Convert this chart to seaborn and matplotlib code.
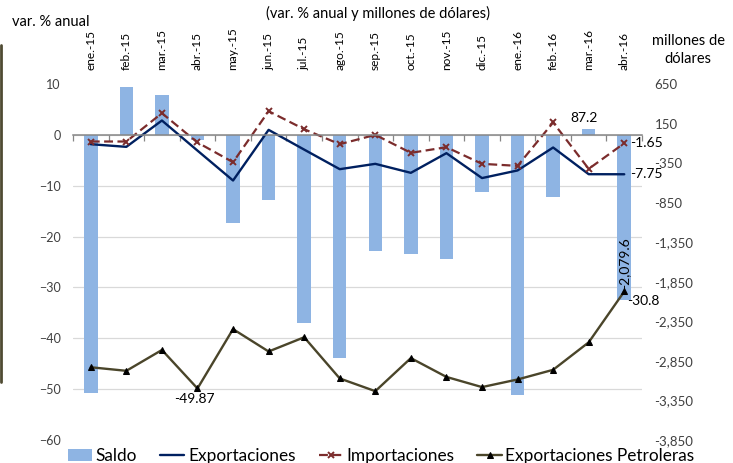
import matplotlib
matplotlib.use("Agg")
import matplotlib.pyplot as plt
from matplotlib.lines import Line2D
from matplotlib.ticker import FixedLocator
import seaborn as sns
import pandas as pd
import numpy as np

meses = ['ene.-15', 'feb.-15', 'mar.-15', 'abr.-15', 'may.-15', 'jun.-15', 'jul.-15', 'ago.-15',
         'sep.-15', 'oct.-15', 'nov.-15', 'dic.-15', 'ene.-16', 'feb.-16', 'mar.-16', 'abr.-16']

# saldo, millones de dolares (eje derecho)
saldo = [-3250, 614, 512, -56, -1109, -822, -2372, -2815,
         -1467, -1493, -1568, -709, -3285, -777, 87.2, -2079.6]

# var. % anual (eje izquierdo)
exportaciones = [-1.84, -2.36, 2.82, -3.1, -8.98, 0.98, -2.9, -6.75,
                 -5.7, -7.47, -3.6, -8.5, -7.0, -2.49, -7.74, -7.75]
importaciones = [-1.31, -1.31, 4.26, -1.5, -5.38, 4.65, 1.11, -1.84,
                 0.0, -3.54, -2.43, -5.7, -6.1, 2.43, -6.69, -1.65]
petroleras = [-45.7, -46.4, -42.3, -49.87, -38.2, -42.6, -39.8, -47.9,
              -50.4, -43.9, -47.6, -49.6, -48.1, -46.2, -40.8, -30.8]

left_ticks = list(range(-60, 11, 10))
right_ticks = list(range(-3850, 651, 500))

df = pd.DataFrame({'mes': meses, 'saldo': saldo, 'exp': exportaciones,
                   'imp': importaciones, 'pet': petroleras})

sns.set_theme(style='white')
plt.rcParams['font.family'] = ['Lato', 'DejaVu Sans']

TXT = '#404040'
fig = plt.figure(figsize=(7.33, 4.63), dpi=100)
ax = fig.add_axes([0.0996, 0.0497, 0.7763, 0.7689])
ax2 = ax.twinx()

# bars on the right (millones) axis
sns.barplot(data=df, x='mes', y='saldo', ax=ax2, color='#8EB4E3', saturation=1,
            width=0.38, label='Saldo', linewidth=0)
ax2.set_ylim(-3850, 650)

# lines on the left axis
sns.lineplot(data=df, x='mes', y='exp', ax=ax, color='#002060', lw=1.7,
             sort=False, label='Exportaciones')
sns.lineplot(data=df, x='mes', y='imp', ax=ax, color='#7B2C2C', lw=1.6,
             linestyle=(0, (4, 2)), marker='x', markersize=5, markeredgewidth=1.4,
             markeredgecolor='#7B2C2C', sort=False, label='Importaciones')
sns.lineplot(data=df, x='mes', y='pet', ax=ax, color='#4A452A', lw=1.7,
             marker='^', markersize=5, markerfacecolor='black', markeredgecolor='black',
             sort=False, label='Exportaciones Petroleras')
ax.set_ylim(-60, 10)
ax.set_xlim(-0.5, len(meses) - 0.5)

ax.set_zorder(ax2.get_zorder() + 1)
ax.patch.set_visible(False)

# gridlines (at left-axis ticks) drawn behind the bars
grid_pos = [-3850 + (v + 60) / 70 * 4500 for v in left_ticks]
ax2.yaxis.set_minor_locator(FixedLocator(grid_pos))
ax2.grid(which='minor', axis='y', color='#D9D9D9', lw=0.9)
ax2.grid(which='major', visible=False)
ax2.set_axisbelow(True)
ax2.set_yticks(right_ticks)
ax2.set_yticklabels([f'{v:,}' for v in right_ticks])
ax2.tick_params(axis='y', which='both', length=0, pad=9, labelsize=9.5, labelcolor=TXT)
ax2.set_ylabel('')
for s in ax2.spines.values():
    s.set_visible(False)

ax.set_yticks(left_ticks)
ax.tick_params(axis='y', length=0, pad=9, labelsize=9, labelcolor=TXT)
ax.set_xticks(range(len(meses)))
ax.set_xticklabels(meses)
ax.set_xticks(np.arange(-0.5, len(meses), 1), minor=True)
ax.tick_params(axis='x', which='major', top=False, bottom=False, labeltop=True,
               labelbottom=False, labelrotation=90, labelsize=8.6, labelcolor='black', pad=4)
ax.tick_params(axis='x', which='minor', bottom=True, top=False, length=4,
               width=0.9, color='#868686', direction='out')
ax.set_xlabel('')
ax.set_ylabel('')
for k in ['top', 'left', 'right']:
    ax.spines[k].set_visible(False)
ax.spines['bottom'].set_position(('data', 0))
ax.spines['bottom'].set_color('#868686')
ax.spines['bottom'].set_linewidth(1.1)

# data labels
lab = dict(fontsize=10, color='black', textcoords='offset points')
ax2.annotate(f'{saldo[14]:.1f}', (14, saldo[14]), xytext=(-3, 3), ha='center', va='bottom', **lab)
ax2.annotate(f'{saldo[15]:,.1f}', (15, saldo[15]), xytext=(0, 8), ha='center', va='bottom',
             rotation=90, **lab)
ax.annotate(f'{importaciones[15]:.2f}', (15, importaciones[15]), xytext=(4, 0), ha='left',
            va='center', **lab)
ax.annotate(f'{exportaciones[15]:.2f}', (15, exportaciones[15]), xytext=(4, 0), ha='left',
            va='center', **lab)
ax.annotate(f'{petroleras[15]:.1f}', (15, petroleras[15]), xytext=(2, -7), ha='left',
            va='center', **lab)
ax.annotate(f'{petroleras[3]:.2f}', (3, petroleras[3]), xytext=(-2, -3), ha='center',
            va='top', **lab)

# legend
h1, l1 = ax2.get_legend_handles_labels()
h2, l2 = ax.get_legend_handles_labels()
for a in (ax, ax2):
    if a.get_legend():
        a.get_legend().remove()
fig.legend(h1 + h2, l1 + l2, loc='lower center', bbox_to_anchor=(0.52, -0.036), ncol=4,
           frameon=False, fontsize=12.4, handlelength=1.4, handletextpad=0.2,
           columnspacing=1.35, labelcolor='black')

# titles
fig.text(0.516, 0.97, '(var. % anual y millones de dólares)', ha='center', va='center',
         fontsize=10.5, color='black')
fig.text(0.016, 0.953, 'var. % anual', ha='left', va='center', fontsize=10.5, color='black')
fig.text(0.939, 0.892, 'millones de\ndólares', ha='center', va='center', fontsize=10.5,
         color='black', linespacing=1.3)

fig.add_artist(Line2D([0.0015, 0.0015], [1 - 45 / 463, 1 - 382 / 463], color='#4F4B32', lw=2))

fig.savefig('out.png', dpi=100)
